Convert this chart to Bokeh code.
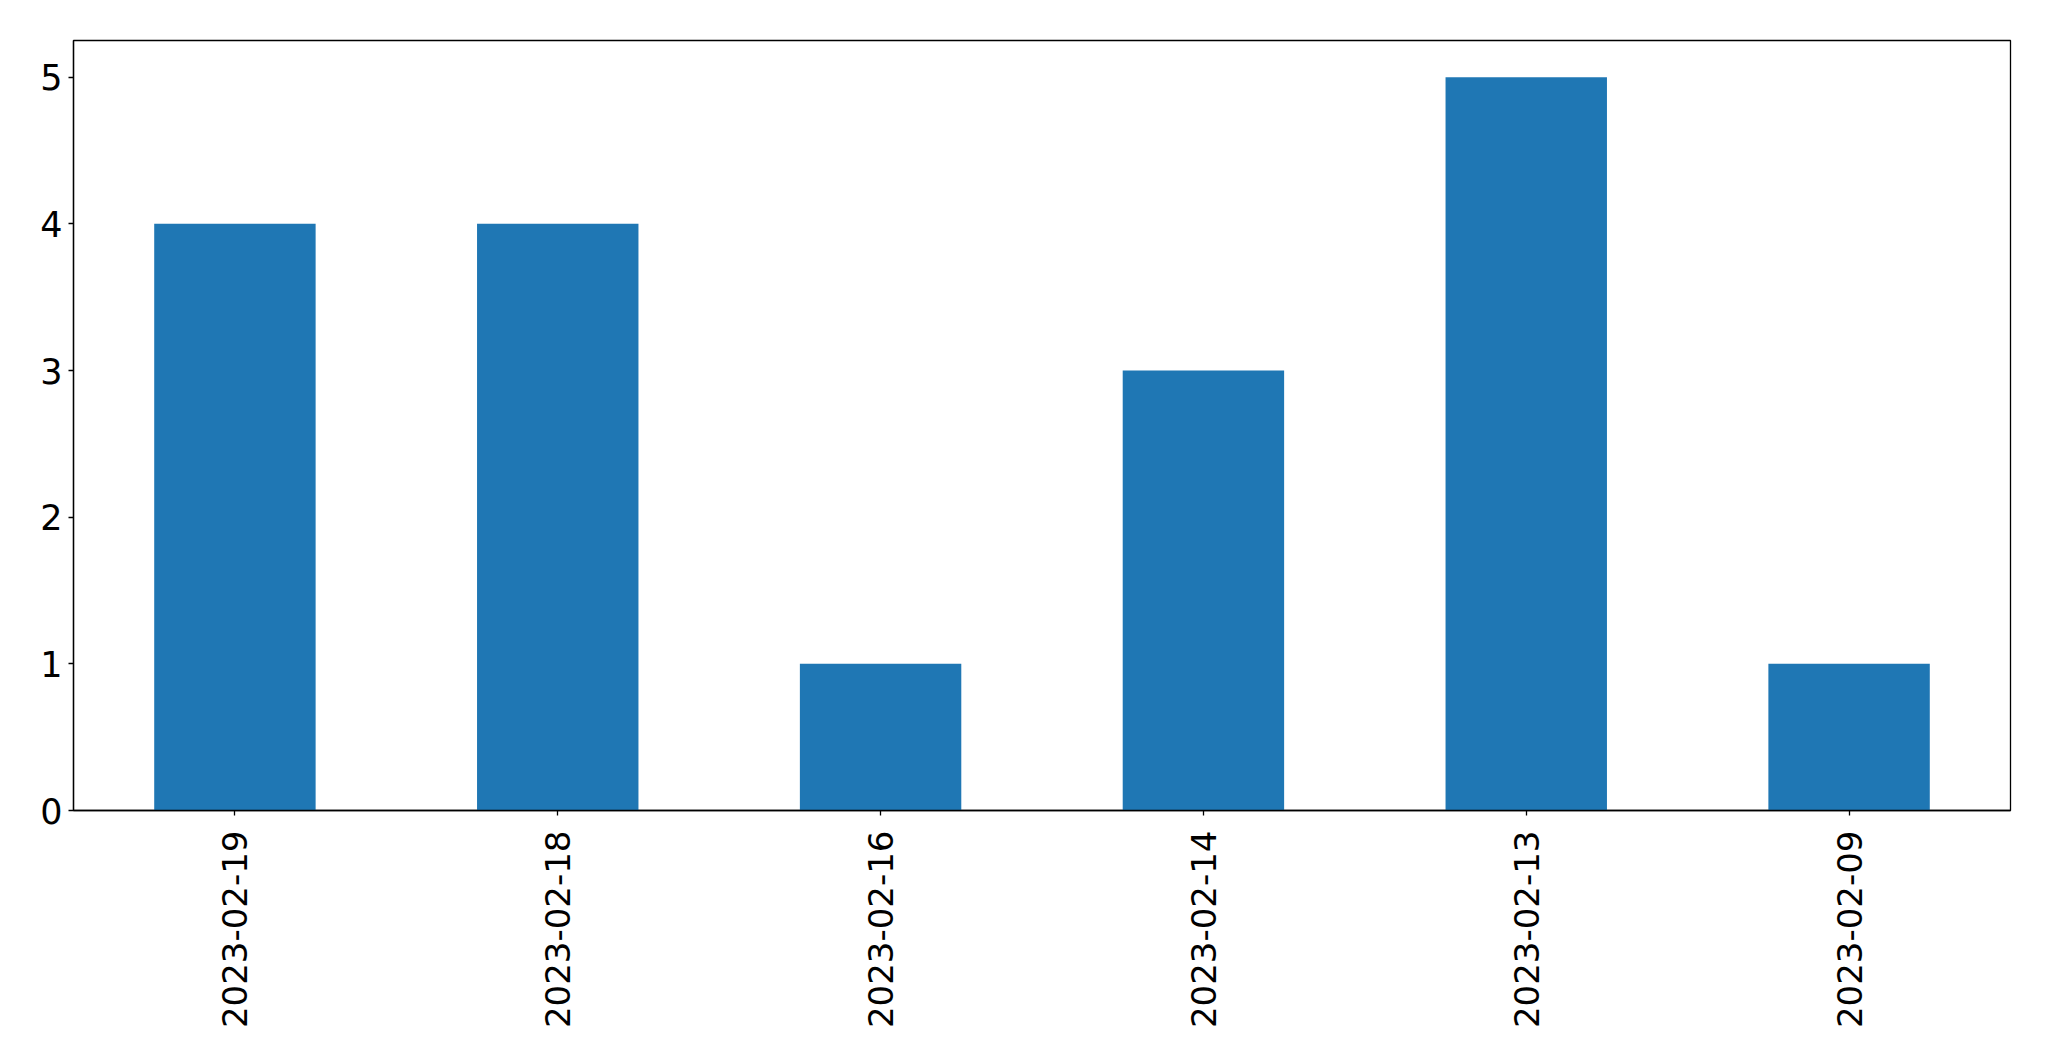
from math import pi
from bokeh.plotting import figure
from bokeh.models import ColumnDataSource, FactorRange, Range1d, FixedTicker
from bokeh.embed import file_html
from bokeh.resources import INLINE

dates = ["2023-02-19", "2023-02-18", "2023-02-16", "2023-02-14", "2023-02-13", "2023-02-09"]
counts = [4, 4, 1, 3, 5, 1]
y_ticks = [0, 1, 2, 3, 4, 5]

source = ColumnDataSource(data=dict(x=dates, y=counts))

p = figure(
    x_range=FactorRange(factors=dates, range_padding=0),
    y_range=Range1d(0, 5.25),
    frame_width=1937, frame_height=770,
    min_border_left=73, min_border_top=40, min_border_right=24, min_border_bottom=225,
    output_backend="svg", toolbar_location=None,
)

p.vbar(x="x", top="y", width=0.5, source=source, fill_color="#1f77b4", line_color=None)

p.xgrid.visible = False
p.ygrid.visible = False
p.outline_line_color = "black"
p.outline_line_width = 1.3
p.outline_line_alpha = 1

for ax in (p.xaxis[0], p.yaxis[0]):
    ax.axis_line_color = "black"
    ax.axis_line_width = 1.3
    ax.major_tick_line_color = "black"
    ax.major_tick_line_width = 1.3
    ax.major_tick_out = 5
    ax.major_tick_in = 0
    ax.minor_tick_line_color = None
    ax.major_label_text_font = "DejaVu Sans"
    ax.major_label_text_color = "black"

p.yaxis[0].major_label_text_font_size = "35px"
p.xaxis[0].major_label_text_font_size = "34px"
p.yaxis[0].ticker = FixedTicker(ticks=y_ticks)
p.yaxis[0].major_label_standoff = 6
p.xaxis[0].major_label_orientation = pi / 2
p.xaxis[0].major_label_standoff = 15

open("out.html", "w").write(file_html(p, INLINE))
